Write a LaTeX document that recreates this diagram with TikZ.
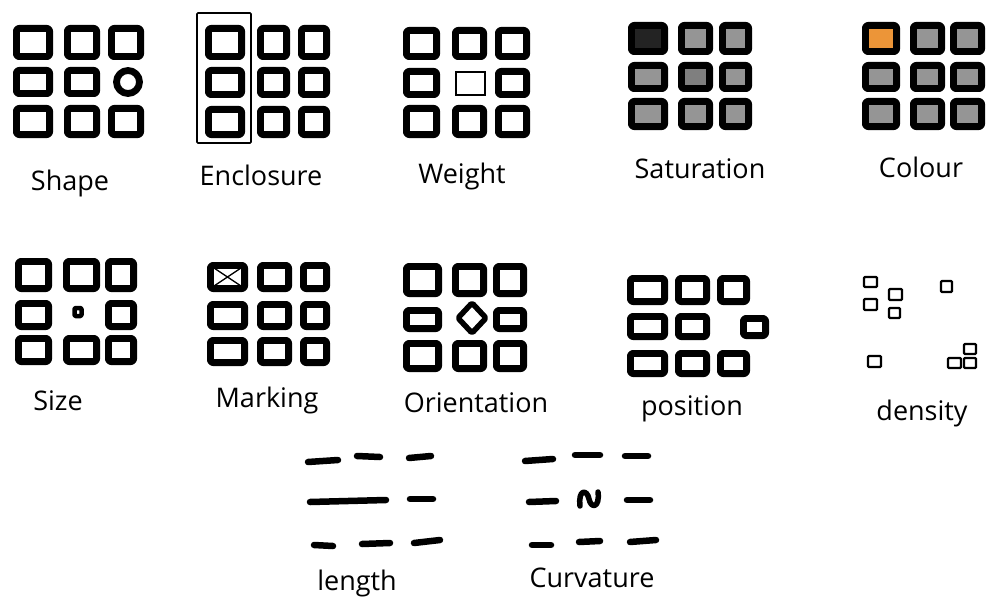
\documentclass[tikz,border=0pt]{standalone}
\usepackage{fontspec}
\setmainfont{Open Sans}
\definecolor{cellgray}{HTML}{959595}
\definecolor{celldark}{HTML}{232323}
\definecolor{cellorange}{HTML}{EC9538}
\tikzset{
  cell/.style={draw=black,line width=6.8pt,rounded corners=2.5pt,line join=round},
  thincell/.style={draw=black,line width=2.4pt,rounded corners=1pt,line join=round},
  hair/.style={draw=black,line width=1.3pt},
  dashstroke/.style={draw=black,line width=6.5pt,line cap=round},
  lbl/.style={anchor=base,font=\fontsize{27}{31}\selectfont,inner sep=0pt}
}
% one box: outer extents, stroke centre inset
\newcommand{\cellbox}[5][]{\draw[cell,#1] ({#2+3.4},{#4+3.4}) rectangle ({#3-3.4},{#5-3.4});}
\begin{document}
\begin{tikzpicture}[x=1pt,y=-1pt]
\useasboundingbox (0,0) rectangle (987,607);
\fill[white] (0,0) rectangle (987,607);

% ---------- Shape
\cellbox{13}{53}{25}{60}\cellbox{64}{100}{25}{60}\cellbox{108}{144}{25}{60}
\cellbox{13}{53}{67}{97}\cellbox{64}{100}{67}{97}
\draw[cell] (128,82) circle (11.5);
\cellbox{13}{53}{105}{138}\cellbox{64}{100}{105}{138}\cellbox{108}{144}{105}{138}
\node[lbl] (shape) at (70,190) {Shape};

% ---------- Enclosure
\cellbox{205}{245}{25}{60}\cellbox{257}{290}{25}{60}\cellbox{298}{330}{25}{60}
\cellbox{205}{245}{67}{98}\cellbox{257}{290}{67}{98}\cellbox{298}{330}{67}{98}
\cellbox{205}{245}{106}{138}\cellbox{257}{290}{106}{138}\cellbox{298}{330}{106}{138}
\draw[black,line width=1.6pt,rounded corners=1pt] (197,13) rectangle (251,143);
\node[lbl] (enclosure) at (261,185) {Enclosure};

% ---------- Weight
\cellbox{403}{440}{27}{60}\cellbox{452}{487}{27}{60}\cellbox{495}{530}{27}{60}
\cellbox{403}{440}{68}{98}\cellbox{495}{530}{68}{98}
\draw[hair] (456,72) rectangle (485,95);
\cellbox{403}{440}{105}{138}\cellbox{452}{487}{105}{138}\cellbox{495}{530}{105}{138}
\node[lbl] (weight) at (462,183) {Weight};

% ---------- Saturation
\cellbox[fill=celldark]{628}{668}{22}{55}\cellbox[fill=cellgray]{678}{713}{22}{55}\cellbox[fill=cellgray]{719}{752}{22}{55}
\cellbox[fill=cellgray]{628}{668}{62}{92}\cellbox[fill=cellgray!85!black]{678}{713}{62}{92}\cellbox[fill=cellgray]{719}{752}{62}{92}
\cellbox[fill=cellgray]{628}{668}{98}{130}\cellbox[fill=cellgray]{678}{713}{98}{130}\cellbox[fill=cellgray]{719}{752}{98}{130}
\node[lbl] (saturation) at (700,178) {Saturation};

% ---------- Colour
\cellbox[fill=cellorange]{862}{900}{22}{55}\cellbox[fill=cellgray]{910}{945}{22}{55}\cellbox[fill=cellgray]{950}{985}{22}{55}
\cellbox[fill=cellgray]{862}{900}{62}{92}\cellbox[fill=cellgray]{910}{945}{62}{92}\cellbox[fill=cellgray]{950}{985}{62}{92}
\cellbox[fill=cellgray]{862}{900}{98}{130}\cellbox[fill=cellgray]{910}{945}{98}{130}\cellbox[fill=cellgray]{950}{985}{98}{130}
\node[lbl] (colour) at (921,177) {Colour};

% ---------- Size
\cellbox{15}{52}{258}{292}\cellbox{63}{100}{258}{292}\cellbox{105}{137}{258}{292}
\cellbox{15}{52}{300}{330}\cellbox{105}{137}{300}{330}
\draw[cell,line width=4.5pt,rounded corners=1pt] (74.5,308) rectangle (81.5,316);
\cellbox{15}{52}{335}{365}\cellbox{63}{100}{335}{365}\cellbox{105}{137}{335}{365}
\node[lbl] (size) at (58,410) {Size};

% ---------- Marking
\cellbox{207}{248}{262}{292}\cellbox{257}{292}{262}{292}\cellbox{300}{330}{262}{292}
\cellbox{207}{248}{301}{330}\cellbox{257}{292}{301}{330}\cellbox{300}{330}{301}{330}
\cellbox{207}{248}{337}{366}\cellbox{257}{292}{337}{366}\cellbox{300}{330}{337}{366}
\draw[hair] (211,266) -- (244,288) (244,266) -- (211,288);
\node[lbl] (marking) at (267,407) {Marking};

% ---------- Orientation
\cellbox{403}{442}{263}{297}\cellbox{452}{487}{263}{297}\cellbox{493}{527}{263}{297}
\cellbox{403}{442}{307}{332}\cellbox{493}{527}{307}{332}
\draw[cell,line width=5.5pt,rounded corners=1.5pt] (472,303) -- (486,318) -- (472,333) -- (458,318) -- cycle;
\cellbox{403}{442}{340}{372}\cellbox{452}{487}{340}{372}\cellbox{493}{527}{340}{372}
\node[lbl] (orientation) at (476,412) {Orientation};

% ---------- Position
\cellbox{627}{668}{275}{305}\cellbox{675}{710}{275}{305}\cellbox{717}{750}{275}{305}
\cellbox{627}{668}{313}{340}\cellbox{675}{710}{313}{340}
\cellbox{740}{769}{315}{339}
\cellbox{627}{668}{350}{377}\cellbox{675}{710}{350}{377}\cellbox{717}{750}{350}{377}
\node[lbl] (position) at (692,415) {position};

% ---------- Density
\draw[thincell] (864,277) rectangle (877,287);
\draw[thincell] (864,299) rectangle (877,310);
\draw[thincell] (889,289) rectangle (902,300);
\draw[thincell] (889,308) rectangle (900,318);
\draw[thincell] (941,281) rectangle (952,292);
\draw[thincell] (868,356) rectangle (881,367);
\draw[thincell] (948,358) rectangle (961,368);
\draw[thincell] (964,358) rectangle (976,368);
\draw[thincell] (964,344) rectangle (976,354);
\node[lbl] (density) at (922,420) {density};

% ---------- Length
\draw[dashstroke] (308,462) -- (338,460);
\draw[dashstroke] (357,456) -- (380,457);
\draw[dashstroke] (409,458) -- (431,456);
\draw[dashstroke] (310,502) -- (386,500);
\draw[dashstroke] (410,499) -- (433,499);
\draw[dashstroke] (314,545) -- (333,546);
\draw[dashstroke] (362,544) -- (390,543);
\draw[dashstroke] (414,543) -- (440,540);
\node[lbl] (length) at (357,590) {length};

% ---------- Curvature
\draw[dashstroke] (525,461) -- (553,459);
\draw[dashstroke] (575,455) -- (600,455);
\draw[dashstroke] (625,456) -- (648,456);
\draw[dashstroke] (529,502) -- (556,501);
\draw[black,line width=5.5pt,line cap=round,line join=round] (580,506) .. controls (578,489) and (587,489) .. (589,499) .. controls (591,509) and (600,508) .. (598,492);
\draw[dashstroke] (627,500) -- (650,500);
\draw[dashstroke] (532,545) -- (551,545);
\draw[dashstroke] (579,542) -- (600,541);
\draw[dashstroke] (630,542) -- (656,540);
\node[lbl] (curvature) at (592,587) {Curvature};
\end{tikzpicture}
\end{document}
